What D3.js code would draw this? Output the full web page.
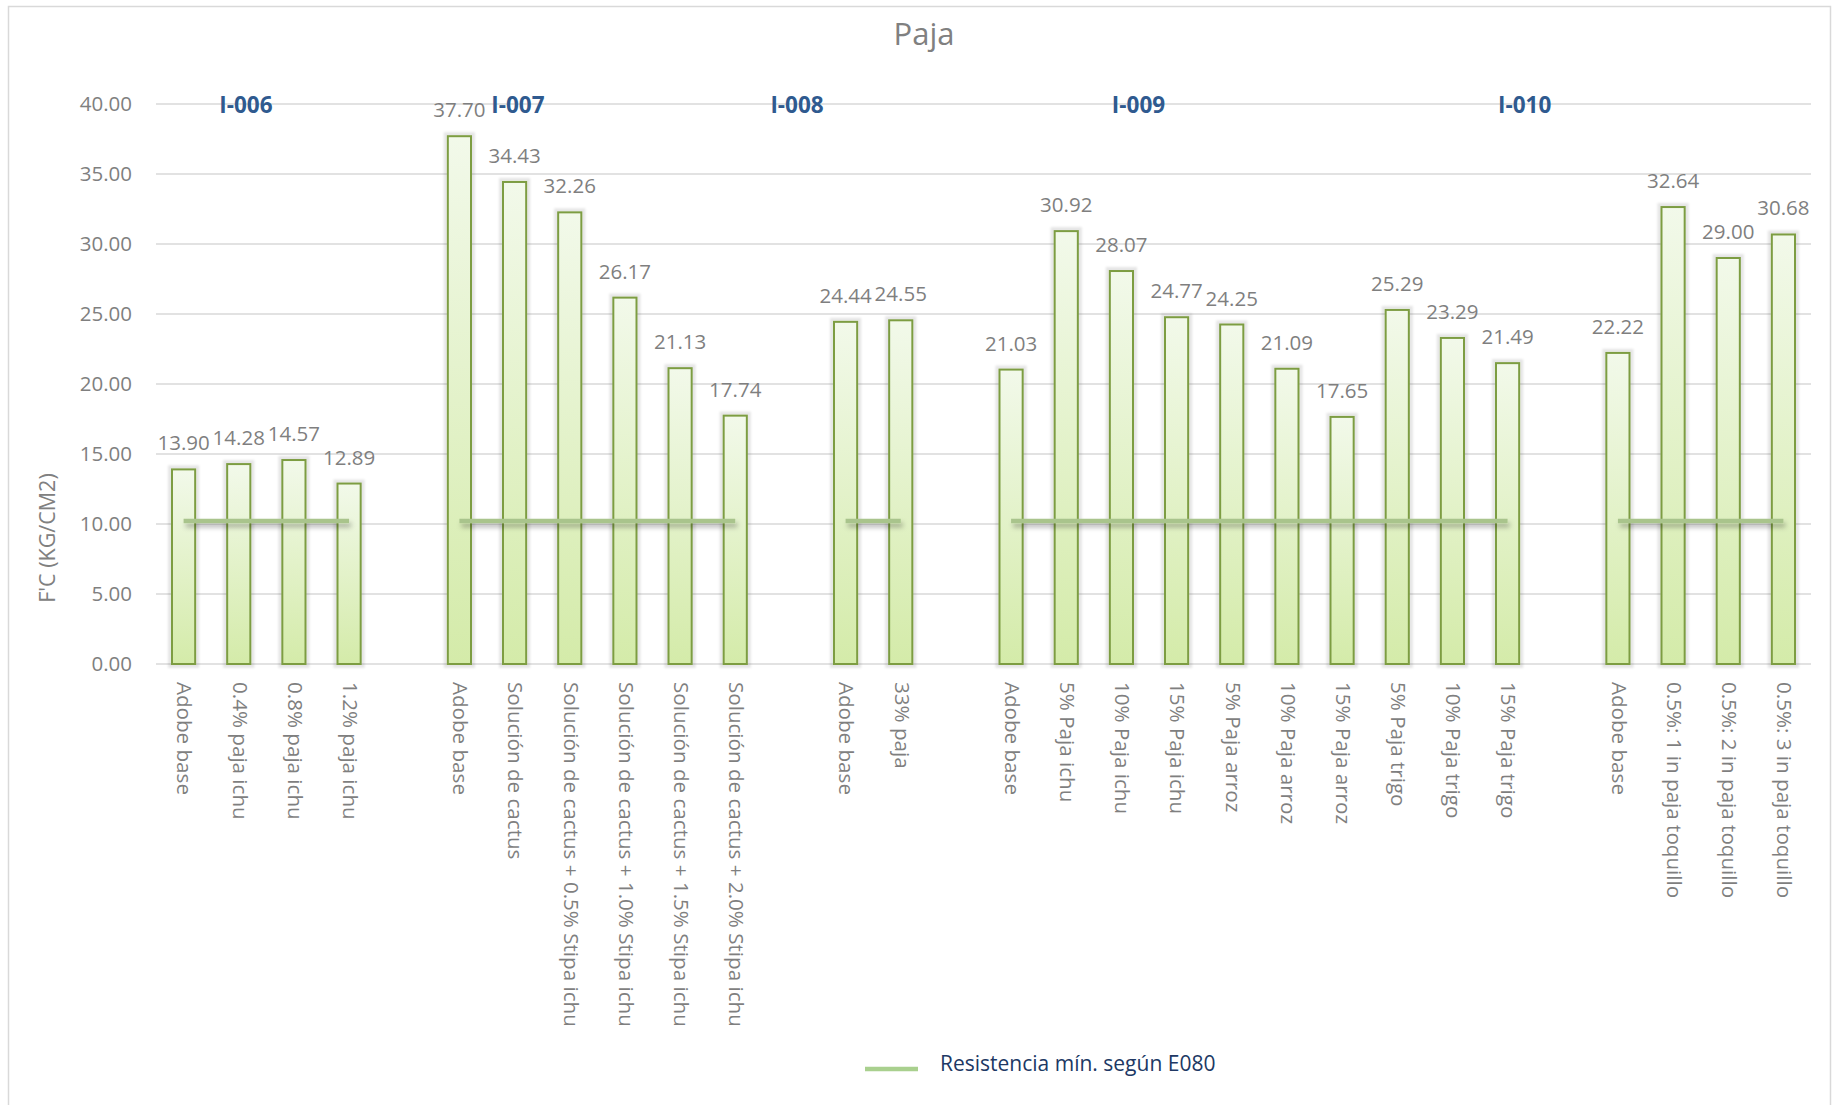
<!DOCTYPE html>
<html>
<head>
<meta charset="utf-8">
<script src="https://cdn.jsdelivr.net/npm/d3@7"></script>
<style>
  html, body { margin: 0; padding: 0; background: #fff; }
  svg { display: block; font-family: "Open Sans", "Noto Sans", sans-serif; }
</style>
</head>
<body>
<svg id="chart" width="1836" height="1105"></svg>
<script>
// Test groups and their mixes
const groups = ["I-006", "I-007", "I-008", "I-009", "I-010"];

const cat006 = ["Adobe base", "0.4% paja ichu", "0.8% paja ichu", "1.2% paja ichu"];
const cat007 = ["Adobe base", "Solución de cactus", "Solución de cactus + 0.5% Stipa ichu",
  "Solución de cactus + 1.0% Stipa ichu", "Solución de cactus + 1.5% Stipa ichu",
  "Solución de cactus + 2.0% Stipa ichu"];
const cat008 = ["Adobe base", "33% paja"];
const cat009 = ["Adobe base", "5% Paja ichu", "10% Paja ichu", "15% Paja ichu", "5% Paja arroz",
  "10% Paja arroz", "15% Paja arroz", "5% Paja trigo", "10% Paja trigo", "15% Paja trigo"];
const cat010 = ["Adobe base", "0.5%: 1 in paja toquillo", "0.5%: 2 in paja toquillo", "0.5%: 3 in paja toquillo"];

// Compressive strength f'c (kg/cm2)
const val006 = [13.90, 14.28, 14.57, 12.89];
const val007 = [37.70, 34.43, 32.26, 26.17, 21.13, 17.74];
const val008 = [24.44, 24.55];
const val009 = [21.03, 30.92, 28.07, 24.77, 24.25, 21.09, 17.65, 25.29, 23.29, 21.49];
const val010 = [22.22, 32.64, 29.00, 30.68];

// Minimum strength required by norm E080
const minStrength = 10;

const yTicks = [0, 5, 10, 15, 20, 25, 30, 35, 40];

const title = "Paja";
const yTitle = "F'C (KG/CM2)";
const legendLabel = "Resistencia mín. según E080";

// ---- layout ----
const W = 1836, H = 1105;
const plot = { left: 156, right: 1811, top: 104, bottom: 664 };
// horizontal placement of the group captions, in category-slot units
const groupCaptionSlot = [1.13, 6.06, 11.12, 17.31, 24.31];

const cats = [cat006, cat007, cat008, cat009, cat010];
const vals = [val006, val007, val008, val009, val010];

// flat list of category slots, with one empty slot between groups
const slots = [];
cats.forEach((c, gi) => {
  c.forEach((name, i) => slots.push({ key: gi + "-" + i, label: name, value: vals[gi][i], group: gi }));
  if (gi < cats.length - 1) slots.push({ key: "gap-" + gi, label: "", value: null, group: null });
});

const svg = d3.select("#chart");
svg.append("rect").attr("width", W).attr("height", H).attr("fill", "#fff");
svg.append("rect").attr("x", 8.5).attr("y", 6.5).attr("width", W - 14).attr("height", H)
  .attr("fill", "none").attr("stroke", "#d9d9d9").attr("stroke-width", 1.5);

const x = d3.scaleBand().domain(slots.map(d => d.key))
  .range([plot.left, plot.right]).paddingInner(0.58).paddingOuter(0.29);
const y = d3.scaleLinear().domain([0, 40]).range([plot.bottom, plot.top]);
const cx = k => x(k) + x.bandwidth() / 2;

// defs: gradient and shadows
const defs = svg.append("defs");
const grad = defs.append("linearGradient").attr("id", "barFill")
  .attr("x1", 0).attr("y1", 0).attr("x2", 0).attr("y2", 1);
grad.append("stop").attr("offset", "0%").attr("stop-color", "#f2f9ea");
grad.append("stop").attr("offset", "100%").attr("stop-color", "#d4eba9");

const barShadow = defs.append("filter").attr("id", "barShadow")
  .attr("x", "-50%").attr("y", "-10%").attr("width", "200%").attr("height", "120%");
barShadow.append("feMorphology").attr("in", "SourceAlpha").attr("operator", "dilate").attr("radius", 3).attr("result", "d");
barShadow.append("feGaussianBlur").attr("in", "d").attr("stdDeviation", 1.2).attr("result", "b");
barShadow.append("feFlood").attr("flood-color", "#000").attr("flood-opacity", 0.1);
barShadow.append("feComposite").attr("in2", "b").attr("operator", "in").attr("result", "s");
const bm = barShadow.append("feMerge");
bm.append("feMergeNode").attr("in", "s");
bm.append("feMergeNode").attr("in", "SourceGraphic");

// horizontal segments have a zero-height bbox, so the shadow region is in user space
const lineShadow = defs.append("filter").attr("id", "lineShadow")
  .attr("filterUnits", "userSpaceOnUse")
  .attr("x", 0).attr("y", 0).attr("width", W).attr("height", H);
lineShadow.append("feGaussianBlur").attr("in", "SourceAlpha").attr("stdDeviation", 2.5).attr("result", "b");
lineShadow.append("feOffset").attr("in", "b").attr("dx", 2).attr("dy", 4).attr("result", "o");
lineShadow.append("feFlood").attr("flood-color", "#000").attr("flood-opacity", 0.3);
lineShadow.append("feComposite").attr("in2", "o").attr("operator", "in").attr("result", "s");
const lm = lineShadow.append("feMerge");
lm.append("feMergeNode").attr("in", "s");
lm.append("feMergeNode").attr("in", "SourceGraphic");

// gridlines
svg.append("g").selectAll("line").data(yTicks).join("line")
  .attr("x1", plot.left).attr("x2", plot.right)
  .attr("y1", d => y(d)).attr("y2", d => y(d))
  .attr("stroke", "#d9d9d9").attr("stroke-width", 1.6);

// y axis
const yAxis = svg.append("g").attr("transform", `translate(${plot.left},0)`)
  .call(d3.axisLeft(y).tickValues(yTicks).tickFormat(d3.format(".2f")).tickSize(0).tickPadding(24));
yAxis.select(".domain").remove();
yAxis.selectAll("text").attr("fill", "#7f7f7f").style("font-size", "20.5px")
  .style("font-family", "'Open Sans', sans-serif").attr("dy", "0.34em");

// x axis
const xAxis = svg.append("g").attr("transform", `translate(0,${plot.bottom})`)
  .call(d3.axisBottom(x).tickFormat(k => slots.find(s => s.key === k).label).tickSize(0));
xAxis.select(".domain").remove();
xAxis.selectAll("text")
  .attr("transform", "rotate(90)")
  .attr("x", 18).attr("y", 0).attr("dy", "0.3em")
  .attr("text-anchor", "start")
  .attr("fill", "#7f7f7f").style("font-size", "20.6px")
  .style("font-family", "'Open Sans', sans-serif");

// bars
const barData = slots.filter(s => s.value !== null);
svg.append("g").selectAll("rect").data(barData).join("rect")
  .attr("x", d => x(d.key)).attr("width", x.bandwidth())
  .attr("y", d => y(d.value)).attr("height", d => y(0) - y(d.value))
  .attr("fill", "url(#barFill)").attr("stroke", "#7d9d43").attr("stroke-width", 2)
  .attr("filter", "url(#barShadow)");

// minimum strength line, one segment per group
const line = d3.line().x(d => cx(d.key)).y(() => y(minStrength) - 3);
svg.append("g").attr("filter", "url(#lineShadow)")
  .selectAll("path").data(groups.map((g, gi) => barData.filter(s => s.group === gi)))
  .join("path")
  .attr("d", line)
  .attr("fill", "none").attr("stroke", "#a9c48c").attr("stroke-width", 4.5);

// value labels
svg.append("g").selectAll("text").data(barData).join("text")
  .attr("x", d => cx(d.key)).attr("y", d => y(d.value) - 19)
  .attr("text-anchor", "middle").attr("fill", "#7f7f7f")
  .style("font-size", "20.5px")
  .text(d => d3.format(".2f")(d.value));

// group captions
svg.append("g").selectAll("text").data(groups).join("text")
  .attr("x", (d, i) => plot.left + groupCaptionSlot[i] * x.step() + x.step() / 2)
  .attr("y", 113)
  .attr("text-anchor", "middle").attr("fill", "#2f5a8f")
  .style("font-size", "22.5px").style("font-weight", "bold")
  .text(d => d);

// title
svg.append("text").attr("x", 924).attr("y", 45).attr("text-anchor", "middle")
  .attr("fill", "#808080").style("font-size", "31px").text(title);

// y axis title
svg.append("text").attr("transform", "translate(55,538) rotate(-90)")
  .attr("text-anchor", "middle").attr("fill", "#808080")
  .style("font-size", "21.5px").text(yTitle);

// legend
const lg = svg.append("g");
lg.append("line").attr("x1", 865).attr("x2", 918).attr("y1", 1069).attr("y2", 1069)
  .attr("stroke", "#a9d08e").attr("stroke-width", 4.5);
lg.append("text").attr("x", 940).attr("y", 1071).attr("fill", "#203864")
  .style("font-size", "21px").text(legendLabel);
</script>
</body>
</html>
